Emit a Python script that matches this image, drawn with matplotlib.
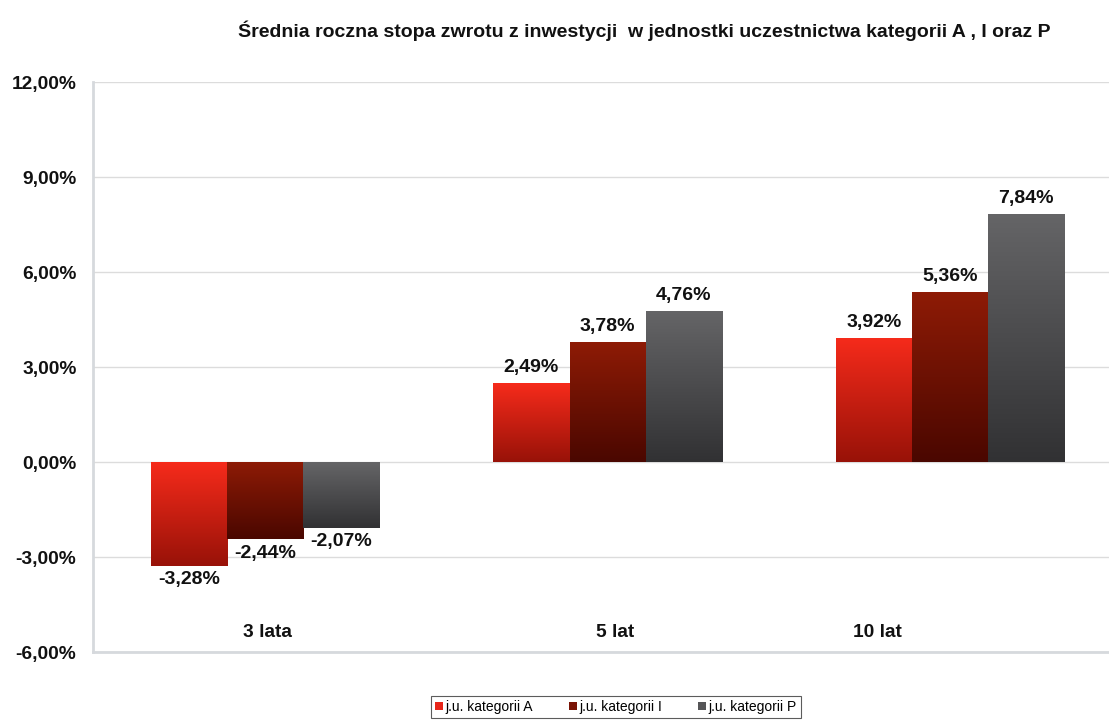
import matplotlib
matplotlib.use("Agg")
import matplotlib.pyplot as plt
import numpy as np
from matplotlib.patches import Patch
from matplotlib.colors import LinearSegmentedColormap

categories = ["3 lata", "5 lat", "10 lat"]
series_names = ["j.u. kategorii A", "j.u. kategorii I", "j.u. kategorii P"]
values_A = [-3.28, 2.49, 3.92]
values_I = [-2.44, 3.78, 5.36]
values_P = [-2.07, 4.76, 7.84]
yticks = [-6, -3, 0, 3, 6, 9, 12]
title = "Średnia roczna stopa zwrotu z inwestycji  w jednostki uczestnictwa kategorii A , I oraz P"

series = [values_A, values_I, values_P]
grad_colors = [("#f62b1b", "#981208"), ("#8e1b06", "#4a0700"), ("#656567", "#313133")]
legend_colors = ["#e8261a", "#7a1406", "#555557"]

plt.rcParams['font.family'] = ['Liberation Sans', 'DejaVu Sans']

fig = plt.figure(figsize=(11.09, 7.2), dpi=100)
ax = fig.add_axes([0.0839, 0.0944, 0.9161, 0.7917])

x = np.arange(len(categories))
width = 0.222
offsets = [-width, 0, width]

def fmt(v):
    return f"{v:.2f}".replace(".", ",") + "%"

for s, vals in enumerate(series):
    cmap = LinearSegmentedColormap.from_list(f"g{s}", [grad_colors[s][1], grad_colors[s][0]])
    bars = ax.bar(x + offsets[s], vals, width, color="none", edgecolor="none", zorder=3)
    for b, v in zip(bars, vals):
        x0 = b.get_x(); x1 = x0 + b.get_width()
        y0 = min(0, v); y1 = max(0, v)
        grad = np.linspace(0, 1, 256).reshape(-1, 1)
        im = ax.imshow(grad, extent=[x0, x1, y0, y1], origin="lower", cmap=cmap,
                       aspect="auto", zorder=3, interpolation="bilinear")
        im.set_clip_path(b)
        if v >= 0:
            ax.annotate(fmt(v), (b.get_x() + b.get_width() / 2, v), xytext=(0, 5),
                        textcoords="offset points", ha="center", va="bottom",
                        fontsize=14, fontweight="bold", color="#111111", zorder=4)
        else:
            ax.annotate(fmt(v), (b.get_x() + b.get_width() / 2, v), xytext=(0, -4),
                        textcoords="offset points", ha="center", va="top",
                        fontsize=14, fontweight="bold", color="#111111", zorder=4)

ax.set_xlim(-0.502, 2.464)
ax.set_ylim(-6, 12)
ax.set_yticks(yticks)
ax.set_yticklabels([fmt(t) for t in yticks], fontsize=13.8, fontweight="bold", color="#111111")
ax.tick_params(axis="y", length=0, pad=12)
ax.set_xticks([])
ax.grid(axis="y", color="#dcdcdc", linewidth=1.0, zorder=0)
ax.set_axisbelow(True)
for side in ["top", "right"]:
    ax.spines[side].set_visible(False)
for side in ["left", "bottom"]:
    ax.spines[side].set_color("#d6d9dd")
    ax.spines[side].set_linewidth(2)

label_shift = [0.006, 0.023, -0.213]
for i, c in enumerate(categories):
    ax.text(i + label_shift[i], -5.37, c, ha="center", va="center",
            fontsize=13.8, fontweight="bold", color="#111111", zorder=4)

fig.text(0.581, 0.957, title, ha="center", va="center", fontsize=14,
         fontweight="bold", color="#111111")

handles = [Patch(facecolor=legend_colors[i], edgecolor="none", label=series_names[i]) for i in range(3)]
leg = fig.legend(handles=handles, loc="center", bbox_to_anchor=(0.5555, 0.018), ncol=3,
                 fontsize=10, frameon=True, fancybox=False, handlelength=0.55, handleheight=0.55,
                 handletextpad=0.2, columnspacing=2.6, borderpad=0.3)
leg.get_frame().set_edgecolor("#333333")
leg.get_frame().set_linewidth(0.8)

fig.savefig("out.png", dpi=100, facecolor="white")
